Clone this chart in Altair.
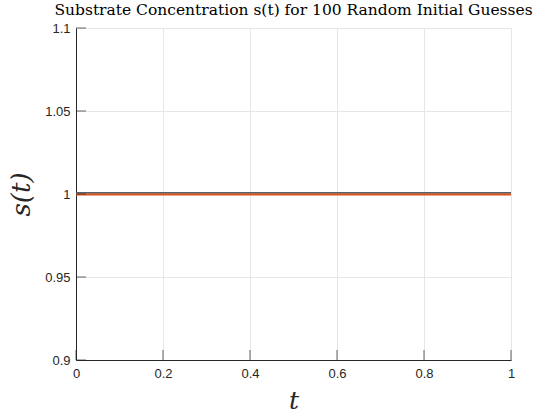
import altair as alt
import pandas as pd

t_values = [0.0, 0.25, 0.5, 0.75, 1.0]
s_values = [1.0, 1.0, 1.0, 1.0, 1.0]
x_ticks = [0, 0.2, 0.4, 0.6, 0.8, 1]
y_ticks = [0.9, 0.95, 1.0, 1.05, 1.1]

df = pd.DataFrame({"t": t_values, "s": s_values})
xt = pd.DataFrame({"t": x_ticks, "s": [0.9] * len(x_ticks)})
yt = pd.DataFrame({"t": [0] * len(y_ticks), "s": y_ticks})

xscale = alt.Scale(domain=[0, 1], nice=False, zero=False)
yscale = alt.Scale(domain=[0.9, 1.1], nice=False, zero=False)

xaxis = alt.Axis(values=x_ticks, format="~g", title="t", titleFont="DejaVu Serif",
                 titleFontStyle="italic", titleFontWeight="normal", titleFontSize=25,
                 titleColor="#262626", titlePadding=8,
                 labelFont="Liberation Sans", labelFontSize=13, labelColor="#262626",
                 labelPadding=7, tickSize=0, domainColor="#262626", domainWidth=1,
                 gridColor="#e6e6e6", gridWidth=1, labelFlush=False)
yaxis = alt.Axis(values=y_ticks, format="~g", title="s(t)", titleFont="DejaVu Serif",
                 titleFontStyle="italic", titleFontWeight="normal", titleFontSize=26,
                 titleColor="#262626", titlePadding=10,
                 labelFont="Liberation Sans", labelFontSize=13, labelColor="#262626",
                 labelPadding=6, tickSize=0, domainColor="#262626", domainWidth=1,
                 gridColor="#e6e6e6", gridWidth=1, labelFlush=False)

base = alt.Chart(df)
line_dark = base.mark_line(color="#56606b", strokeWidth=1.6, yOffset=-1.1).encode(
    x=alt.X("t:Q", scale=xscale, axis=xaxis),
    y=alt.Y("s:Q", scale=yscale, axis=yaxis),
)
line_orange = base.mark_line(color="#D95319", strokeWidth=2.2, yOffset=0.5).encode(
    x=alt.X("t:Q", scale=xscale),
    y=alt.Y("s:Q", scale=yscale),
)
xticks = alt.Chart(xt).mark_tick(color="#262626", size=10, thickness=1, orient="vertical",
                                 yOffset=-5).encode(
    x=alt.X("t:Q", scale=xscale), y=alt.Y("s:Q", scale=yscale)
)
yticks = alt.Chart(yt).mark_tick(color="#262626", size=10, thickness=1, orient="horizontal",
                                 xOffset=5).encode(
    x=alt.X("t:Q", scale=xscale), y=alt.Y("s:Q", scale=yscale)
)

chart = alt.layer(line_dark, line_orange, xticks, yticks).properties(
    width=435, height=332,
    title=alt.TitleParams("Substrate Concentration s(t) for 100 Random Initial Guesses",
                          font="DejaVu Serif", fontSize=15.5, fontWeight="normal",
                          color="#000000", anchor="middle", offset=4),
    autosize=alt.AutoSizeParams(type="none"),
    padding={"left": 76, "top": 28, "right": 33, "bottom": 54},
).configure_view(stroke=None).configure(background="white")

chart.save("out.html", embed_options={"renderer": "svg", "actions": False})
